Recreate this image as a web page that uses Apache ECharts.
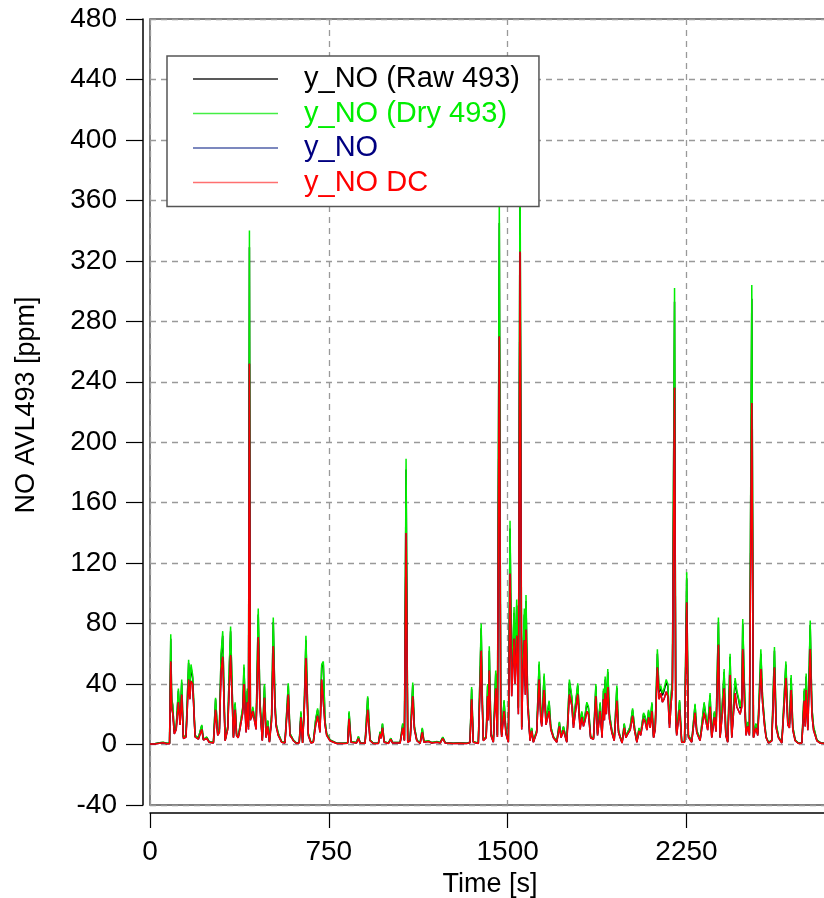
<!DOCTYPE html>
<html>
<head>
<meta charset="utf-8">
<script src="https://cdn.jsdelivr.net/npm/echarts@6/dist/echarts.min.js"></script>
<style>
html,body{margin:0;padding:0;background:#fff;}
#chart{width:824px;height:898px;}
</style>
</head>
<body>
<div id="chart"></div>
<script>
// Time axis [s]
const timeS = [0,20,40,55,70,82,87,91,95,102,110,119,126,133,140,151,162,167,172,179,189,203,217,224,238,248,266,275,284,291,298,305,315,326,333,338,350,357,363,370,377,389,394,403,408,413,417,421,426,431,436,445,454,461,471,480,487,494,501,510,517,524,529,538,552,566,580,587,594,601,615,626,633,640,647,654,664,675,685,695,703,713,720,727,734,741,755,783,811,829,835,843,866,874,881,902,913,923,937,958,965,969,975,982,1000,1010,1017,1049,1060,1067,1074,1081,1091,1102,1109,1119,1133,1142,1149,1168,1182,1203,1217,1228,1238,1272,1300,1328,1342,1349,1356,1377,1389,1394,1398,1410,1416,1419,1423,1430,1440,1450,1457,1465,1471,1475,1485,1493,1503,1510,1517,1527,1531,1538,1545,1552,1559,1563,1570,1574,1577,1584,1594,1601,1608,1622,1632,1639,1643,1653,1661,1674,1681,1692,1706,1717,1724,1734,1748,1759,1769,1776,1783,1794,1804,1811,1818,1825,1832,1839,1848,1860,1870,1877,1888,1896,1902,1906,1909,1914,1920,1927,1937,1947,1958,1965,1972,1980,1989,1996,2004,2014,2024,2032,2042,2051,2058,2070,2077,2084,2091,2098,2105,2112,2119,2128,2135,2142,2149,2156,2165,2172,2179,2186,2191,2200,2205,2209,2221,2230,2242,2251,2258,2272,2286,2293,2307,2324,2332,2339,2349,2356,2367,2374,2384,2391,2401,2408,2415,2423,2433,2440,2447,2454,2461,2468,2475,2482,2486,2493,2500,2507,2514,2524,2531,2541,2549,2562,2569,2577,2584,2594,2608,2619,2626,2636,2650,2667,2675,2682,2689,2696,2706,2720,2734,2744,2748,2752,2759,2769,2776,2783,2797,2811,2827,2850];

// y_NO (Dry 493) [ppm]
const dryNO = [0.5,0.6,1.2,1.5,0.8,0.8,73,30,27,8.5,12,37,16,43,5,6,56,38,53,46,6,4.5,13,3.5,5,2,1.3,31,7.4,10.5,60,75,3,12,54,78,5.3,28,7.4,5.3,12,25,53,9.6,37,12,340,20,18,25,25,12,90,30,3.1,40,5.3,16,2,20,84,30,14,7.4,2,1.3,40.5,7.4,5.3,3.1,0.9,1.5,22,1.3,27,72,7.4,1.3,2,17,24,9.6,53,55,16,7.4,3.1,0.9,0.9,1.2,22,2,1.3,5.3,1.3,1,32,3.1,0.9,0.9,8.5,5,14,2,0.9,4.2,1.3,1.3,14,3.1,189,2,3.1,41,12,3.1,0.9,11,2,2.5,1.3,2,1.3,5,1.3,0.9,1.2,0.9,1.5,38,2,0.9,80,30,3.1,5.3,40,20,65,7.4,2,49,6.4,362,20,6.4,29.5,8.5,2,148,40,91,50,96,25,395,12,50,90,40,99,32,3.1,11,2,9.6,55,20.7,14,47,16,29,12,5.3,2,15,5.3,12,2,43,32,14,25,40.5,12,22,15,20,28,25,5.3,4.2,40,7.4,28,5.3,37,20,45,25,50,20.7,9.6,3.1,39,9.6,5.3,1.3,14,5.3,8.5,12,24,11.9,2,11,7.4,21,18.5,11.9,23,14,28,5.3,12,63,36,39,34,37,43,40,14,34,43,302,20,7.4,29.5,2,2,114,6.4,2,27,9.6,3.1,28,18.5,11.9,34,5.3,22,10.7,84,5.3,29,50,7.4,2,60,5.3,25,44,36,31,25,31,83,40,7.4,15,7.4,304,5.3,14,7.4,63,32,16,5.3,1.3,3.1,64.5,14,5.3,1.3,55,16,14,46,11.9,3.1,0.9,1.3,37,15,47,11.9,82,25,11.9,3.1,1.3,0.9,0.8];

// y_NO (Raw 493) [ppm]
const rawNO = [0.5,0.6,1.2,1.4,0.8,0.8,70,29,26,8.2,11.6,35.5,15.5,41,4.8,5.8,54,36.5,51,44,5.8,4.4,12.5,3.4,4.8,1.9,1.3,30,7.2,10.1,58,72,2.9,11.6,52,75,5.1,27,7.2,5.1,11.6,24,51,9.3,35.5,11.6,329,19.3,17.4,24,24,11.6,86,29,3,38.5,5.1,15.5,1.9,19.3,81,29,13.5,7.2,1.9,1.3,39,7.2,5.1,3,0.9,1.5,21,1.3,26,69,7.2,1.3,1.9,16.4,23,9.3,51,53,15.5,7.2,3,0.9,0.9,1.2,21,1.9,1.3,5.1,1.3,1,31,3,0.9,0.9,8.2,4.8,13.5,1.9,0.9,4.1,1.3,1.3,13.5,3,182,1.9,3,39.5,11.6,3,0.9,10.6,1.9,2.4,1.3,1.9,1.3,4.8,1.3,0.9,1.2,0.9,1.5,36.5,1.9,0.9,77,29,3,5.1,38.5,19.3,62,7.2,1.9,47,6.2,345,19.3,6.2,28.5,8.2,1.9,143,38.5,87,48,92,24,380,11.6,48,86,38.5,95,31,3,10.6,1.9,9.3,53,20,13.5,45,15.5,28,11.6,5.1,1.9,14.5,5.1,11.6,1.9,41,31,13.5,24,39,11.6,21,14.5,19.3,27,24,5.1,4.1,38.5,7.2,27,5.1,35.5,19.3,43,24,48,20,9.3,3,37.5,9.3,5.1,1.3,13.5,5.1,8.2,11.6,23,11.5,1.9,10.6,7.2,20.2,17.8,11.5,22,13.5,27,5.1,11.6,60,34.5,37.5,32.5,35.5,41,38.5,13.5,32.5,41,293,19.3,7.2,28.5,1.9,1.9,110,6.2,1.9,26,9.3,3,27,17.8,11.5,32.5,5.1,21,10.3,81,5.1,28,48,7.2,1.9,58,5.1,24,42,34.5,30,24,30,80,38.5,7.2,14.5,7.2,295,5.1,13.5,7.2,60,31,15.5,5.1,1.3,3,62,13.5,5.1,1.3,53,15.5,13.5,44,11.5,3,0.9,1.3,35.5,14.5,45,11.5,79,24,11.5,3,1.3,0.9,0.8];

// y_NO DC [ppm]
const dcNO = [0.3,0.4,0.9,1.2,0.5,0.6,55,24,21,7,10,28,13,33,4,5,43,30,42,40,5,3.5,10,3,4,1.5,1,23,6,8,48,58,2.5,10,41,59,4.5,23,6,4.5,10,21,40,8,28,10,252,16,15,22,21,10,71,25,2.5,31,4.5,12,1.5,16,65,24,12,6,1.5,1,33,6,4.5,2.5,0.7,1.2,18,1,23,57,6,1,1.5,13,19,8,43,42,13,6,2.5,0.7,0.7,0.9,17,1.5,1,4,1,0.8,23,2.5,0.7,0.7,7,4,11,1.5,0.7,3.5,1,1,11,2.5,140,1.5,2.5,32,10,2.5,0.7,8,1.5,2,1,1.5,1,4,1,0.7,0.9,0.7,1.2,30,1.5,0.7,62,24,2.5,4.5,32,16,49,6,1.5,37,5,270,16,5,22,7,1.5,113,32,70,40,72,20,326,10,40,69,33,76,26,2.5,9,1.5,8,43,17,12,36,13,22,10,4.5,1.5,12,4.5,9.5,1.5,33,26,11,20,33,10,18,12,16,22,20,4.5,3.5,32,6,22,4.5,30,16,34,20,38,17,8,2.5,29,8,4.5,1,11,4.5,7,9.5,19,9.5,1.5,9,6,17,15,9.5,18,11,22,4.5,10,51,30,34,28,30,35,32,11,28,36,236,16,6,23,1.5,1.5,94,5,1.5,21,8,2.5,21,15,9.5,25,4.5,18,8.5,66,4.5,21,37,6,1.5,46,4.5,20,34,25,25,20,25,63,29,6,12,6,226,4.5,11,6,50,28,13,4.5,1,2.5,51,11,4.5,1,44,13,11,36,9.5,2.5,0.7,1,29,12,36,9.5,63,20,9.5,2.5,1,0.7,0.6];

// y_NO [ppm] (coincides with y_NO DC in the picture)
const yNO = [0.3,0.4,0.9,1.2,0.5,0.6,55,24,21,7,10,28,13,33,4,5,43,30,42,40,5,3.5,10,3,4,1.5,1,23,6,8,48,58,2.5,10,41,59,4.5,23,6,4.5,10,21,40,8,28,10,252,16,15,22,21,10,71,25,2.5,31,4.5,12,1.5,16,65,24,12,6,1.5,1,33,6,4.5,2.5,0.7,1.2,18,1,23,57,6,1,1.5,13,19,8,43,42,13,6,2.5,0.7,0.7,0.9,17,1.5,1,4,1,0.8,23,2.5,0.7,0.7,7,4,11,1.5,0.7,3.5,1,1,11,2.5,140,1.5,2.5,32,10,2.5,0.7,8,1.5,2,1,1.5,1,4,1,0.7,0.9,0.7,1.2,30,1.5,0.7,62,24,2.5,4.5,32,16,49,6,1.5,37,5,270,16,5,22,7,1.5,113,32,70,40,72,20,326,10,40,69,33,76,26,2.5,9,1.5,8,43,17,12,36,13,22,10,4.5,1.5,12,4.5,9.5,1.5,33,26,11,20,33,10,18,12,16,22,20,4.5,3.5,32,6,22,4.5,30,16,34,20,38,17,8,2.5,29,8,4.5,1,11,4.5,7,9.5,19,9.5,1.5,9,6,17,15,9.5,18,11,22,4.5,10,51,30,34,28,30,35,32,11,28,36,236,16,6,23,1.5,1.5,94,5,1.5,21,8,2.5,21,15,9.5,25,4.5,18,8.5,66,4.5,21,37,6,1.5,46,4.5,20,34,25,25,20,25,63,29,6,12,6,226,4.5,11,6,50,28,13,4.5,1,2.5,51,11,4.5,1,44,13,11,36,9.5,2.5,0.7,1,29,12,36,9.5,63,20,9.5,2.5,1,0.7,0.6];

const seriesNames = ['y_NO (Raw 493)', 'y_NO (Dry 493)', 'y_NO', 'y_NO DC'];
const seriesColors = ['#000000', '#00ee00', '#000080', '#ff0000'];
const legendLineColors = ['#222222', '#44ee44', '#5060a8', '#ff7070'];
const xTicks = [0, 750, 1500, 2250];
const yMin = -40, yMax = 480, yStep = 40;
const xMin = 0, xMax = 2852;

const FONT = '"Liberation Sans", Arial, sans-serif';
const pairs = arr => timeS.map((t, i) => [t, arr[i]]);
const seriesData = [rawNO, dryNO, yNO, dcNO];

const chart = echarts.init(document.getElementById('chart'), null, {renderer: 'canvas'});
chart.setOption({
  animation: false,
  backgroundColor: '#ffffff',
  grid: {
    left: 150, top: 19, width: 680, height: 786,
    outerBoundsMode: 'none', containLabel: false,
    show: true, borderColor: '#555555', borderWidth: 1.5, backgroundColor: 'transparent'
  },
  legend: {
    orient: 'vertical',
    left: 167, top: 56,
    padding: [8, 19, 9, 26],
    icon: 'rect',
    itemWidth: 85, itemHeight: 1.6, itemGap: 4.5,
    backgroundColor: '#ffffff',
    borderColor: '#555555', borderWidth: 1.5, borderRadius: 0,
    textStyle: {fontSize: 29, lineHeight: 30, fontFamily: FONT, padding: [0, 0, 0, 21]},
    data: seriesNames.map((n, i) => ({
      name: n,
      itemStyle: {color: legendLineColors[i], borderWidth: 0},
      textStyle: {color: seriesColors[i]}
    })),
    z: 10
  },
  xAxis: {
    type: 'value', min: xMin, max: xMax, interval: 750,
    position: 'bottom', offset: 8,
    axisLine: {show: true, onZero: false, lineStyle: {color: '#000', width: 1.5}},
    axisTick: {show: true, length: 15, lineStyle: {color: '#000', width: 1.2}},
    axisLabel: {
      fontSize: 28, color: '#000', fontFamily: FONT, margin: 25, showMaxLabel: false,
      formatter: v => (xTicks.indexOf(v) >= 0 ? String(v) : '')
    },
    splitLine: {show: true, lineStyle: {color: '#999', width: 1.3, type: [6, 5]}},
    name: 'Time [s]', nameLocation: 'middle', nameGap: 56,
    nameTextStyle: {fontSize: 27, color: '#000', fontFamily: FONT}
  },
  yAxis: {
    type: 'value', min: yMin, max: yMax, interval: yStep,
    position: 'left', offset: 7,
    axisLine: {show: true, onZero: false, lineStyle: {color: '#000', width: 1.5}},
    axisTick: {show: true, length: 17, lineStyle: {color: '#000', width: 1.2}},
    axisLabel: {fontSize: 28, color: '#000', fontFamily: FONT, margin: 26},
    splitLine: {show: true, lineStyle: {color: '#999', width: 1.3, type: [6, 5]}},
    name: 'NO AVL493 [ppm]', nameLocation: 'middle', nameGap: 103,
    nameTextStyle: {fontSize: 27, color: '#000', fontFamily: FONT, padding: [0, 0, 0, 14]}
  },
  series: seriesNames.map((n, i) => ({
    name: n, type: 'line', data: pairs(seriesData[i]),
    symbol: 'none', showSymbol: false, sampling: false, clip: true,
    lineStyle: {color: seriesColors[i], width: 1.5},
    itemStyle: {color: seriesColors[i]},
    z: 2 + i * 0.1
  }))
});
</script>
</body>
</html>
